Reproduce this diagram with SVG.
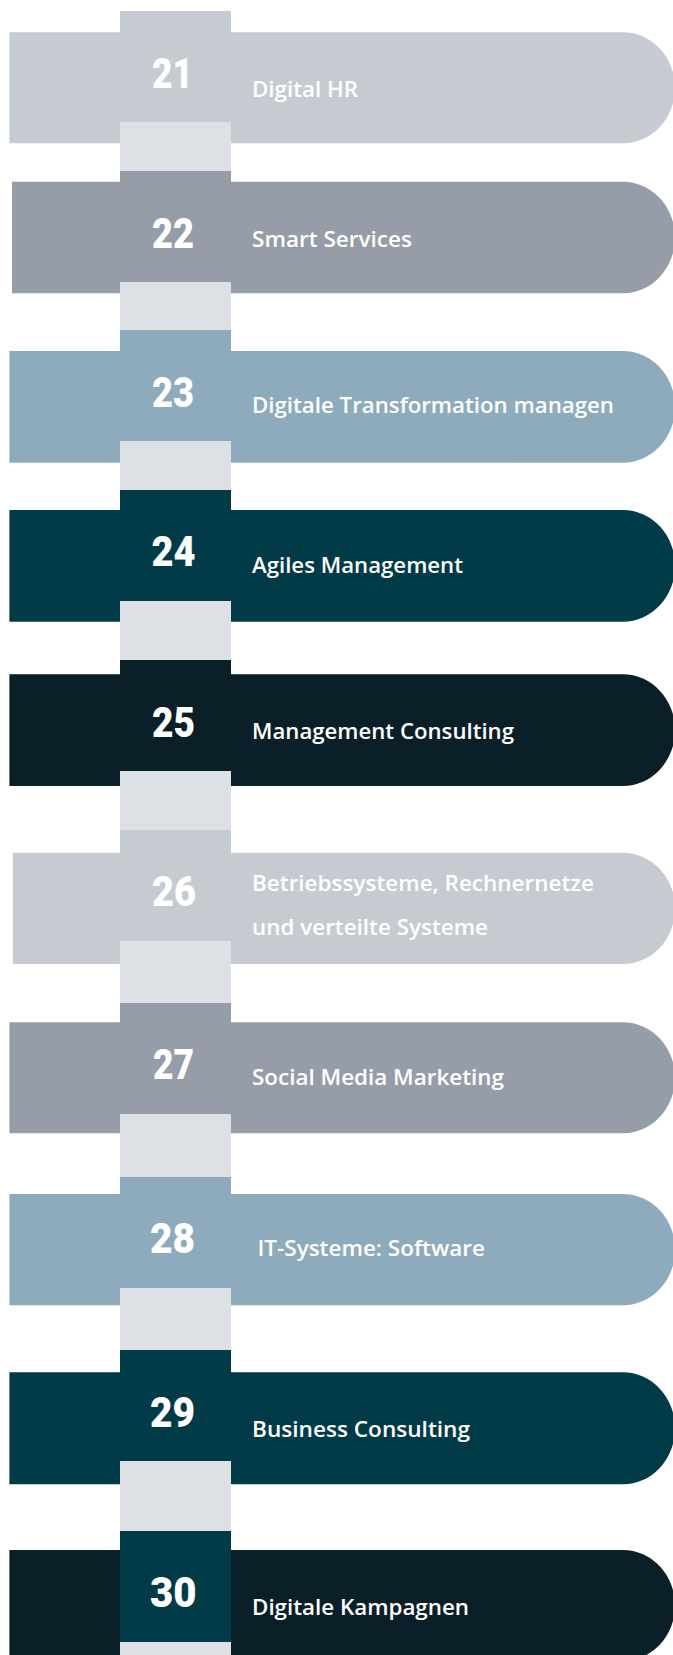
<svg xmlns="http://www.w3.org/2000/svg" width="673" height="1655" viewBox="0 0 673 1655">
<style>
.c1{fill:#c6cad1}.c2{fill:#979da8}.c3{fill:#8eabbd}.c4{fill:#013b47}.c5{fill:#0b1f28}
.lnk{fill:#dde1e6}
.num{font-family:Roboto,"Liberation Sans",sans-serif;font-weight:900;font-size:42px;fill:#fff}
.lbl{font-family:"Open Sans","Noto Sans","Liberation Sans",sans-serif;font-weight:600;font-size:22px;fill:#fff}
</style>
<rect width="673" height="1655" fill="#fff"/>
<g id="item21">
<path class="c1" d="M9.4 32.3H623A52 55.5 0 0 1 623 143.3H9.4Z"/>
<rect class="c1" x="120" y="11" width="111" height="111"/>
<text class="num" x="152" y="88.3" textLength="41" lengthAdjust="spacingAndGlyphs">21</text>
<text class="lbl" x="252" y="96.7" textLength="106" lengthAdjust="spacingAndGlyphs">Digital HR</text>
</g>
<g id="item22">
<path class="c2" d="M12 181.7H623A52 55.8 0 0 1 623 293.3H12Z"/>
<rect class="c2" x="120" y="171" width="111" height="111"/>
<text class="num" x="152" y="248.3" textLength="42" lengthAdjust="spacingAndGlyphs">22</text>
<text class="lbl" x="252" y="247.3" textLength="160" lengthAdjust="spacingAndGlyphs">Smart Services</text>
</g>
<g id="item23">
<path class="c3" d="M9.4 351H623A52 55.8 0 0 1 623 462.7H9.4Z"/>
<rect class="c3" x="120" y="330" width="111" height="111"/>
<text class="num" x="152" y="406.7" textLength="42" lengthAdjust="spacingAndGlyphs">23</text>
<text class="lbl" x="252" y="413.3" textLength="362" lengthAdjust="spacingAndGlyphs">Digitale Transformation managen</text>
</g>
<g id="item24">
<path class="c4" d="M9.4 510H623A52 55.8 0 0 1 623 621.7H9.4Z"/>
<rect class="c4" x="120" y="490" width="111" height="111"/>
<text class="num" x="151.5" y="565.7" textLength="44" lengthAdjust="spacingAndGlyphs">24</text>
<text class="lbl" x="252" y="573.3" textLength="211" lengthAdjust="spacingAndGlyphs">Agiles Management</text>
</g>
<g id="item25">
<path class="c5" d="M9.4 674.3H623A52 55.8 0 0 1 623 786H9.4Z"/>
<rect class="c5" x="120" y="660" width="111" height="111"/>
<text class="num" x="152" y="736.7" textLength="43" lengthAdjust="spacingAndGlyphs">25</text>
<text class="lbl" x="252" y="739.3" textLength="262" lengthAdjust="spacingAndGlyphs">Management Consulting</text>
</g>
<g id="item26">
<path class="c1" d="M12.9 852.7H623A52 55.6 0 0 1 623 964H12.9Z"/>
<rect class="c1" x="120" y="830" width="111" height="111"/>
<text class="num" x="152" y="906" textLength="44" lengthAdjust="spacingAndGlyphs">26</text>
<text class="lbl" x="252" y="891" textLength="342" lengthAdjust="spacingAndGlyphs">Betriebssysteme, Rechnernetze</text>
<text class="lbl" x="252" y="935" textLength="236" lengthAdjust="spacingAndGlyphs">und verteilte Systeme</text>
</g>
<g id="item27">
<path class="c2" d="M9.4 1022.3H623A52 55.5 0 0 1 623 1133.3H9.4Z"/>
<rect class="c2" x="120" y="1003" width="111" height="111"/>
<text class="num" x="153" y="1079.3" textLength="41" lengthAdjust="spacingAndGlyphs">27</text>
<text class="lbl" x="252" y="1085" textLength="252" lengthAdjust="spacingAndGlyphs">Social Media Marketing</text>
</g>
<g id="item28">
<path class="c3" d="M9.4 1194H623A52 55.6 0 0 1 623 1305.3H9.4Z"/>
<rect class="c3" x="120" y="1177" width="111" height="111"/>
<text class="num" x="150" y="1252.7" textLength="45" lengthAdjust="spacingAndGlyphs">28</text>
<text class="lbl" x="257.5" y="1255.7" textLength="227.5" lengthAdjust="spacingAndGlyphs">IT-Systeme: Software</text>
</g>
<g id="item29">
<path class="c4" d="M9.4 1372.3H623A52 56 0 0 1 623 1484.3H9.4Z"/>
<rect class="c4" x="120" y="1350" width="111" height="111"/>
<text class="num" x="150" y="1426.7" textLength="45" lengthAdjust="spacingAndGlyphs">29</text>
<text class="lbl" x="252" y="1436.7" textLength="218" lengthAdjust="spacingAndGlyphs">Business Consulting</text>
</g>
<g id="item30">
<path class="c5" d="M9.4 1550H623A52 55.5 0 0 1 623 1661H9.4Z"/>
<rect class="c4" x="120" y="1531" width="111" height="111"/>
<text class="num" x="150" y="1606.7" textLength="46.5" lengthAdjust="spacingAndGlyphs">30</text>
<text class="lbl" x="252" y="1615" textLength="217" lengthAdjust="spacingAndGlyphs">Digitale Kampagnen</text>
</g>
<g id="connectors">
<rect class="lnk" x="120" y="122" width="111" height="49"/>
<rect class="lnk" x="120" y="282" width="111" height="48"/>
<rect class="lnk" x="120" y="441" width="111" height="49"/>
<rect class="lnk" x="120" y="601" width="111" height="59"/>
<rect class="lnk" x="120" y="771" width="111" height="59"/>
<rect class="lnk" x="120" y="941" width="111" height="62"/>
<rect class="lnk" x="120" y="1114" width="111" height="63"/>
<rect class="lnk" x="120" y="1288" width="111" height="62"/>
<rect class="lnk" x="120" y="1461" width="111" height="70"/>
<rect class="lnk" x="120" y="1642" width="111" height="13"/>
</g>
</svg>
